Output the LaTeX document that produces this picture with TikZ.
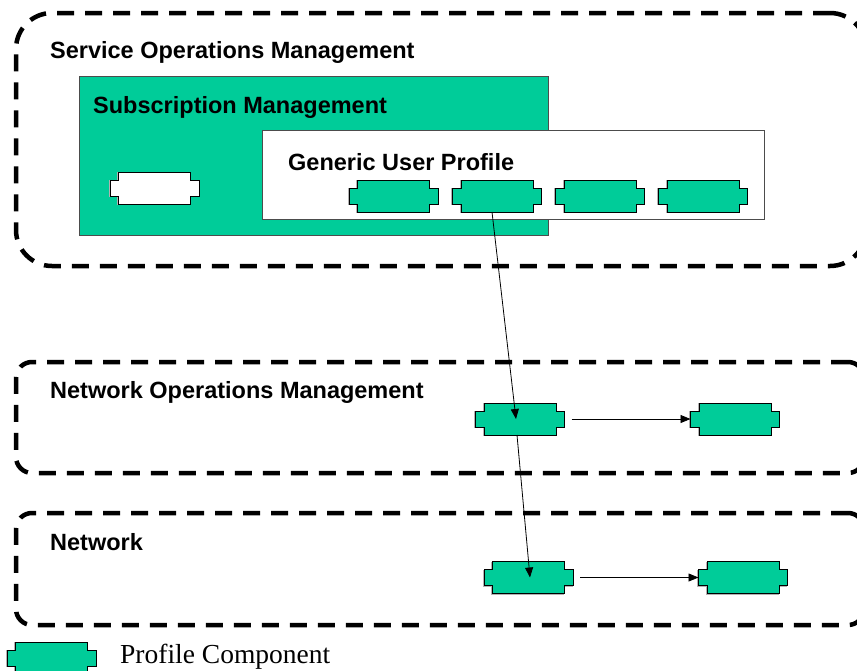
\documentclass[tikz,border=0pt]{standalone}
\usepackage{fontspec}
\setmainfont{Liberation Serif}
\newfontfamily\arialfont{Liberation Sans}
\usetikzlibrary{arrows.meta}
\definecolor{pgreen}{RGB}{0,204,153}
\tikzset{
  zone/.style={draw=black, line width=4.5pt, dash pattern=on 17pt off 11pt, inner sep=0pt},
  lbl/.style={font=\arialfont\bfseries\fontsize{23.5}{28}\selectfont, anchor=base west, inner sep=0pt},
  compnode/.style={minimum width=89pt, minimum height=32pt, inner sep=0pt, outer sep=0pt},
  compshape/.style={draw=black, line width=1pt},
  link/.style={draw=black, line width=0.8pt, -{Triangle[length=10pt,width=8pt]}},
  panel/.style={draw=gray!60!black, line width=1pt, inner sep=0pt},
}
\newcommand\compo[4]{%
  \node[compnode] (#1) at (#2,#3) {};
  \begin{scope}[shift={(#1.center)}, x=1pt, y=1pt]
    \draw[gray!60, line width=0.8pt, shift={(-0.8,-0.8)}] (-36,16) -- (36,16) -- (36,8) -- (44.5,8) -- (44.5,-8) -- (36,-8) -- (36,-16) -- (-36,-16) -- (-36,-8) -- (-44.5,-8) -- (-44.5,8) -- (-36,8) -- cycle;
    \draw[compshape, fill=#4] (-36,16) -- (36,16) -- (36,8) -- (44.5,8) -- (44.5,-8) -- (36,-8) -- (36,-16) -- (-36,-16) -- (-36,-8) -- (-44.5,-8) -- (-44.5,8) -- (-36,8) -- cycle;
  \end{scope}
}
\begin{document}
\begin{tikzpicture}[x=1pt, y=-1pt]
\useasboundingbox (0,0) rectangle (857,670);
\fill[white] (0,0) rectangle (857,670);

% zones
\node[zone, rounded corners=36pt, minimum width=850pt, minimum height=253pt] (som) at (441,139.5) {};
\node[zone, rounded corners=16pt, minimum width=848pt, minimum height=111pt] (nom) at (440,417.5) {};
\node[zone, rounded corners=16pt, minimum width=848pt, minimum height=112pt] (net) at (440,569) {};

% subscription management
\node[panel, fill=pgreen, minimum width=469pt, minimum height=159pt] (sub) at (313.5,155.5) {};
\node[panel, fill=white, minimum width=502pt, minimum height=89pt] (gup) at (513,174.5) {};

% labels
\node[lbl] (lsom) at (50,58) {Service Operations Management};
\node[lbl] (lsub) at (93,113) {Subscription Management};
\node[lbl] (lgup) at (288,170) {Generic User Profile};
\node[lbl] (lnom) at (50,398) {Network Operations Management};
\node[lbl] (lnet) at (50,550) {Network};

% components
\compo{wc}{154.5}{188}{white}
\compo{g1}{393.5}{196}{pgreen}
\compo{g2}{497}{196}{pgreen}
\compo{g3}{600}{196}{pgreen}
\compo{g4}{703}{196}{pgreen}
\compo{n1}{520}{419}{pgreen}
\compo{n2}{735}{419}{pgreen}
\compo{m1}{528.5}{577.5}{pgreen}
\compo{m2}{743}{577.5}{pgreen}
\compo{leg}{51.5}{658}{pgreen}

% connectors
\draw[link] ([xshift=-5pt]g2.south) -- ([xshift=-4pt]n1.center);
\draw[link] ([xshift=-3pt]n1.south) -- ([xshift=1.5pt]m1.center);
\draw[link, shorten <=7pt] (n1.east) -- (n2.west);
\draw[link, shorten <=7pt] (m1.east) -- (m2.west);

% legend
\node[font=\fontsize{27.5}{32}\selectfont, anchor=base west, inner sep=0pt] (legt) at (120,663) {Profile Component};
\end{tikzpicture}
\end{document}
